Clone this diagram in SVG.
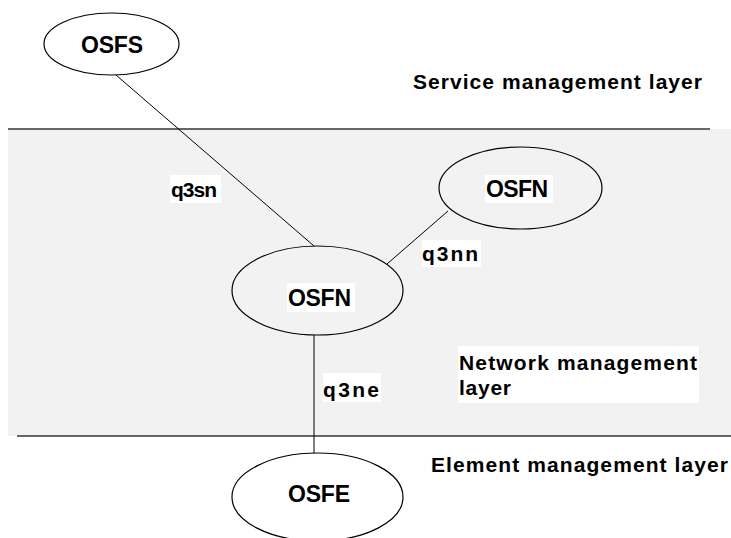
<svg xmlns="http://www.w3.org/2000/svg" width="731" height="538" viewBox="0 0 731 538">
<style>
.node{fill:none;stroke:#000;stroke-width:1.2}
.lbl{font-family:"Liberation Sans",Arial,sans-serif;font-weight:bold;fill:#000}
.nl{font-size:23px}
.ll{font-size:21px}
.bg{fill:#fff}
.conn{stroke:#000;stroke-width:1;fill:none}
.sep{stroke:#666;stroke-width:2}
</style>
<rect id="layer-band" x="8" y="129" width="723" height="307" fill="#f2f2f2"/>
<line class="sep" x1="8" y1="129" x2="710" y2="129"/>
<line class="sep" x1="17" y1="436" x2="731" y2="436"/>
<g id="connectors">
<line class="conn" x1="116" y1="75" x2="314" y2="246"/>
<line class="conn" x1="448" y1="211" x2="387" y2="264"/>
<line class="conn" x1="314" y1="335" x2="314" y2="453" stroke="#333" stroke-width="1.5"/>
<rect class="bg" x="170" y="175" width="51" height="28"/>
<text class="lbl ll" x="171" y="197" textLength="46" lengthAdjust="spacing">q3sn</text>
<rect class="bg" x="422" y="240" width="59" height="27"/>
<text class="lbl ll" x="422" y="261" textLength="56" lengthAdjust="spacing">q3nn</text>
<rect class="bg" x="323" y="373" width="58" height="29"/>
<text class="lbl ll" x="323" y="397" textLength="56" lengthAdjust="spacing">q3ne</text>
</g>
<g id="osfs">
<ellipse class="node" cx="111.5" cy="44" rx="67.5" ry="31"/>
<text class="lbl nl" x="81" y="53" textLength="62" lengthAdjust="spacing">OSFS</text>
</g>
<g id="osfn-right">
<ellipse class="node" cx="520.5" cy="188" rx="81.5" ry="41"/>
<rect class="bg" x="485" y="175" width="68" height="28"/>
<text class="lbl nl" x="486" y="197" textLength="62" lengthAdjust="spacing">OSFN</text>
</g>
<g id="osfn-center">
<ellipse class="node" cx="317.5" cy="290.5" rx="85.5" ry="44.5"/>
<rect class="bg" x="287" y="283" width="68" height="29"/>
<text class="lbl nl" x="288" y="306" textLength="63" lengthAdjust="spacing">OSFN</text>
</g>
<g id="osfe">
<ellipse class="node" cx="317.5" cy="497" rx="85.5" ry="44"/>
<text class="lbl nl" x="288" y="502" textLength="62" lengthAdjust="spacing">OSFE</text>
</g>
<g id="layer-labels">
<text class="lbl ll" x="413" y="89" textLength="289" lengthAdjust="spacing">Service management layer</text>
<rect class="bg" x="458" y="346" width="241" height="57"/>
<text class="lbl ll" x="459" y="370" textLength="238" lengthAdjust="spacing">Network management</text>
<text class="lbl ll" x="459" y="395" textLength="52" lengthAdjust="spacing">layer</text>
<text class="lbl ll" x="431" y="472" textLength="297" lengthAdjust="spacing">Element management layer</text>
</g>
</svg>
